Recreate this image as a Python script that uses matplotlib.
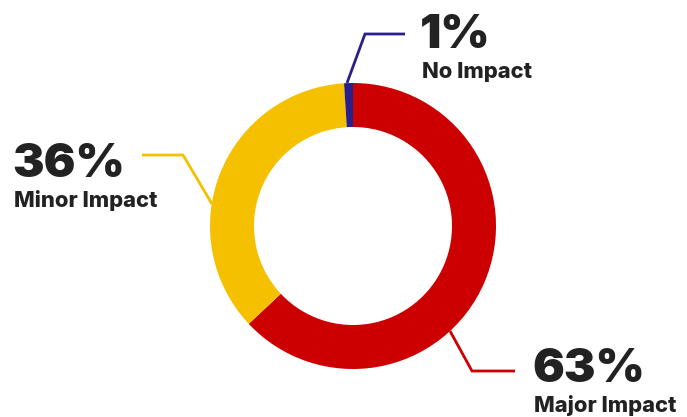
import matplotlib
matplotlib.use("Agg")
import matplotlib.pyplot as plt

# Survey shares (percent), drawn clockwise from 12 o'clock
categories = ["Major Impact", "Minor Impact", "No Impact"]
values = [63, 36, 1]
colors = ["#CC0000", "#F5C000", "#2B1F8A"]

W, H = 687, 417
fig = plt.figure(figsize=(W / 100, H / 100), dpi=100)
ax = fig.add_axes([0, 0, 1, 1])
ax.set_xlim(0, W)
ax.set_ylim(0, H)
ax.set_aspect("equal")
ax.axis("off")

cx, cy, R, ring = 353, H - 226, 143, 44
ax.pie(values, colors=colors, startangle=90, counterclock=False,
       center=(cx, cy), radius=R,
       wedgeprops=dict(width=ring, linewidth=0, antialiased=True))
ax.set_xlim(0, W)
ax.set_ylim(0, H)

txt = "#222222"
font = ["Inter", "Liberation Sans", "DejaVu Sans"]


def label(x, y_base, pct, name, lx, ly, color):
    # leader line (pixel coordinates measured from the top)
    ax.plot(lx, [H - v for v in ly], color=color, lw=2, solid_capstyle="butt",
            solid_joinstyle="miter")
    ax.text(x, H - y_base, f"{pct}%", fontsize=34, fontweight="black",
            family=font, color=txt, ha="left", va="baseline")
    ax.text(x + 2, H - (y_base + 30), name, fontsize=15.8, fontweight="heavy",
            family=font, color=txt, ha="left", va="baseline")


label(420, 48, values[2], categories[2],
      [347, 365, 405], [83, 34, 34], colors[2])
label(12, 177, values[1], categories[1],
      [212, 183, 142], [204, 155, 155], colors[1])
label(532, 382, values[0], categories[0],
      [450, 472, 515], [331, 371, 371], colors[0])

fig.savefig("out.png", dpi=100)
